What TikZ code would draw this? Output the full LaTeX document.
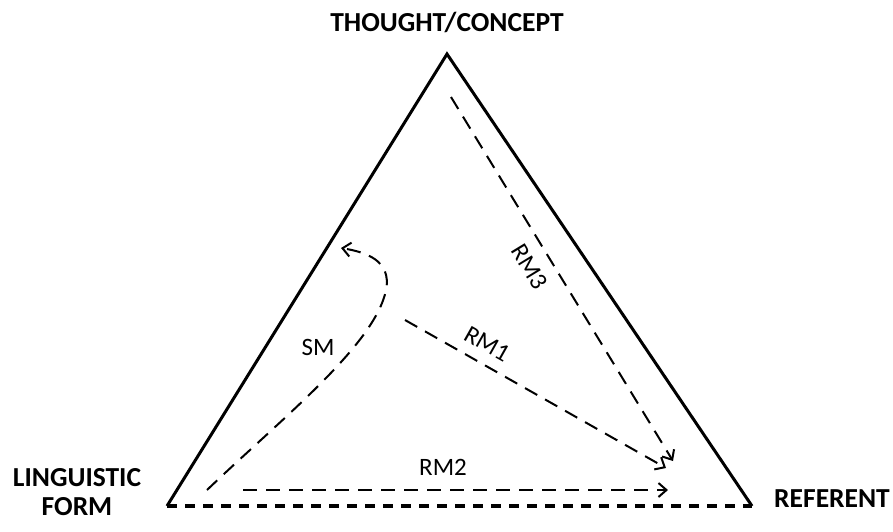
\documentclass[tikz,border=0pt]{standalone}
\usepackage{fontspec}
\setmainfont{Carlito}
\usetikzlibrary{arrows.meta, math}

\begin{document}
\begin{tikzpicture}[x=1pt,y=-1pt,
  corner/.style={font=\fontsize{27.5}{29}\selectfont\bfseries, align=center},
  relation/.style={font=\fontsize{25}{28}\selectfont},
  mapping/.style={line width=2, dash pattern=on 14 off 9, -{Straight Barb[length=8pt,width=14pt,line width=2pt]}}]
\tikzmath{
\xT=447; \yT=54;
\xL=167; \xR=752; \yB=506;
}
\useasboundingbox (0,0) rectangle (893,531);

%The triangle:
\coordinate (T) at (\xT,\yT);
\coordinate (L) at (\xL,\yB);
\coordinate (R) at (\xR,\yB);
\draw[line width=3, line join=miter] (L) -- (T) -- (R);
\draw[line width=3.2, dash pattern=on 10 off 8] (L) -- (R);

\node[corner] (thought) at (\xT,22) {THOUGHT/CONCEPT};
\node[corner] (form) at (77,492) {LINGUISTIC\\FORM};
\node[corner] (referent) at (832,499) {REFERENT};

%The mappings:
\coordinate (sm0) at (207,490);
\coordinate (sm1) at (386,290);
\coordinate (sm2) at (341,248);
\coordinate (rm10) at (405,320);
\coordinate (rm11) at (666,468);
\coordinate (rm20) at (243,490);
\coordinate (rm21) at (668,490);
\coordinate (rm30) at (451,97);
\coordinate (rm31) at (673,461);

\draw[mapping] (sm0) .. controls (280,420) and (375,345) .. (sm1) .. controls (392,260) and (365,252) .. (sm2);
\draw[mapping] (rm10) -- (rm11);
\draw[mapping] (rm20) -- (rm21);
\draw[mapping] (rm30) -- (rm31);

\node[relation] (sm) at (318,347) {SM};
\node[relation, rotate=-29.4] (rm1) at (487,344) {RM1};
\node[relation] (rm2) at (443,467) {RM2};
\node[relation, rotate=-58.6] (rm3) at (530,267) {RM3};

\end{tikzpicture}
\end{document}
